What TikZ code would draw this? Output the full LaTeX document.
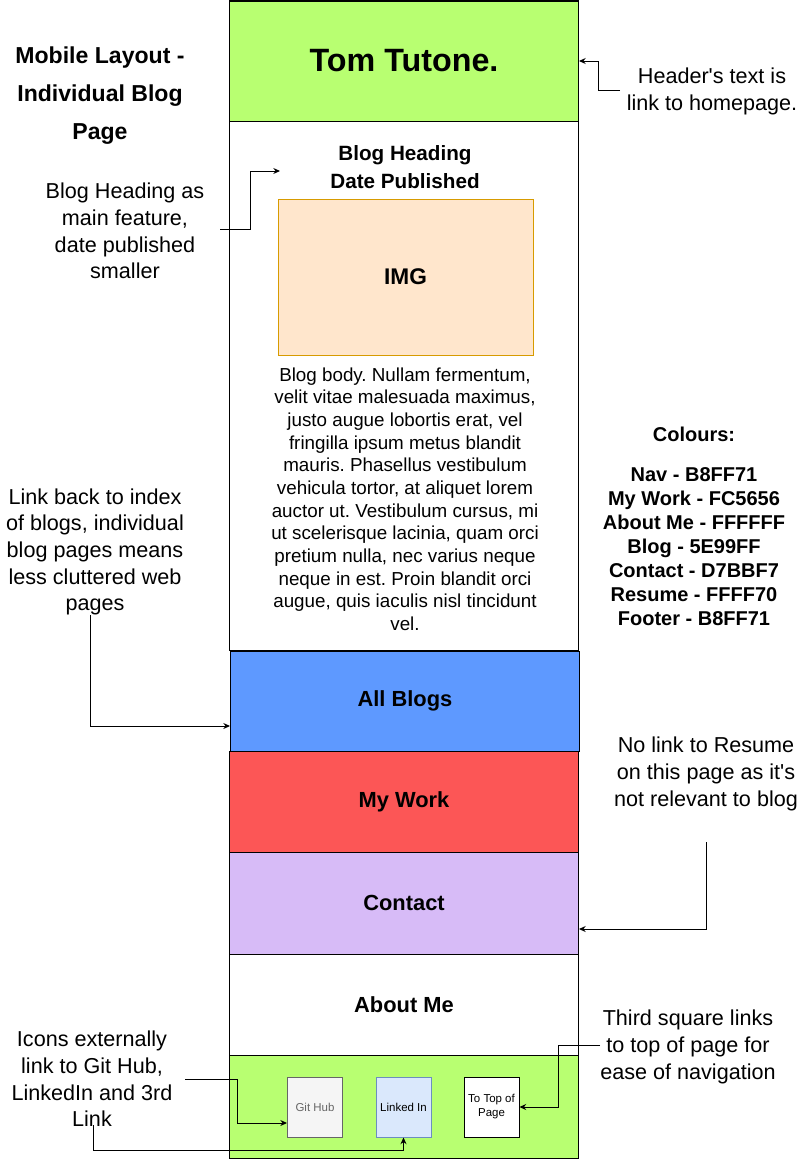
\documentclass[tikz,border=0pt]{standalone}
\usepackage{fontspec}
\setmainfont{Liberation Sans}[Ligatures=TeXOff]
\usetikzlibrary{arrows.meta,positioning}
\newlength\px
\setlength\px{0.75pt}
\definecolor{navgreen}{HTML}{B8FF71}
\definecolor{blogblue}{HTML}{5E99FF}
\definecolor{workred}{HTML}{FC5656}
\definecolor{contactlilac}{HTML}{D7BBF7}
\definecolor{imgfill}{HTML}{FFE6CC}
\definecolor{imgline}{HTML}{D79B00}
\definecolor{gitfill}{HTML}{F5F5F5}
\definecolor{gitline}{HTML}{666666}
\definecolor{lnkfill}{HTML}{DAE8FC}
\definecolor{lnkline}{HTML}{6C8EBF}

\begin{document}
\frenchspacing
\begin{tikzpicture}[x=0.75pt,y=-0.75pt]
\tikzstyle{section}=[draw, line width=0.75pt, minimum width=349\px, inner sep=0pt, font=\fontsize{16.4}{19}\selectfont\bfseries]
\tikzstyle{note}=[align=center, inner sep=0pt, font=\fontsize{16.2}{20}\selectfont]
\tikzstyle{iconbox}=[draw, line width=0.75pt, minimum width=55\px, minimum height=60\px, inner sep=1pt, align=center, font=\fontsize{8.6}{10.5}\selectfont]
\tikzstyle{link}=[line width=0.75pt, -{Stealth[length=5pt,width=4.5pt]}]

\useasboundingbox (0,0) rectangle (807,1160);

% page column
\node[section, fill=navgreen, minimum height=120\px, font=\fontsize{24.2}{28}\selectfont\bfseries] (header) at (404,61) {Tom Tutone.};
\node[section, minimum height=529\px] (body) at (404,386) {};
\node[section, fill=blogblue, minimum height=100\px] (blogs) at (405,701) {All Blogs};
\node[section, fill=workred, minimum height=101\px] (work) at (404,801.5) {My Work};
\node[section, fill=contactlilac, minimum height=102\px] (contact) at (404,903) {Contact};
\node[section, minimum height=101\px] (about) at (404,1004.5) {About Me};
\node[section, fill=navgreen, minimum height=103\px] (footer) at (403.5,1106.5) {};

% blog content
\node[align=center, inner sep=0pt, font=\fontsize{15.5}{21}\selectfont\bfseries] (heading) at (405,167) {Blog Heading\\Date Published};
\node[draw=imgline, fill=imgfill, line width=0.75pt, minimum width=255\px, minimum height=156\px, font=\fontsize{17}{20}\selectfont\bfseries] (img) at (405.5,277) {IMG};
\node[align=center, inner sep=0pt, font=\fontsize{14.1}{17}\selectfont] (bodytext) at (405,499) {Blog body. Nullam fermentum,\\velit vitae malesuada maximus,\\justo augue lobortis erat, vel\\fringilla ipsum metus blandit\\mauris. Phasellus vestibulum\\vehicula tortor, at aliquet lorem\\auctor ut. Vestibulum cursus, mi\\ut scelerisque lacinia, quam orci\\pretium nulla, nec varius neque\\neque in est. Proin blandit orci\\augue, quis iaculis nisl tincidunt\\vel.};

% footer icons
\node[iconbox, draw=gitline, fill=gitfill, text=gitline] (git) at (315,1107) {Git Hub};
\node[iconbox, draw=lnkline, fill=lnkfill] (lnk) at (403.5,1107) {Linked In};
\node[iconbox, fill=white] (top) at (491.5,1107) {To Top of\\Page};

% notes
\node[align=center, inner sep=0pt, font=\fontsize{17.3}{28.5}\selectfont\bfseries] (title) at (100,96) {Mobile Layout -\\Individual Blog\\Page};
\node[note] (hdrnote) at (712,91.5) {Header's text is\\link to homepage.};
\node[note] (headnote) at (125,231) {Blog Heading as\\main feature,\\date published\\smaller};
\node[align=center, inner sep=0pt, font=\fontsize{15}{18}\selectfont\bfseries] (colours) at (694,526) {Colours:\\[12pt]Nav - B8FF71\\My Work - FC5656\\About Me - FFFFFF\\Blog - 5E99FF\\Contact - D7BBF7\\Resume - FFFF70\\Footer - B8FF71};
\node[note] (indexnote) at (95,552) {Link back to index\\of blogs, individual\\blog pages means\\less cluttered web\\pages};
\node[note] (resumenote) at (706,774) {No link to Resume\\on this page as it's\\not relevant to blog};
\node[note] (iconnote) at (92,1079) {Icons externally\\link to Git Hub,\\LinkedIn and 3rd\\Link};
\node[note] (topnote) at (688,1047) {Third square links\\to top of page for\\ease of navigation};

% connectors
\coordinate (hdrA) at (620,90);
\coordinate (headA) at (220,229);
\coordinate (headB) at (280,171);
\coordinate (indexA) at (90,615);
\coordinate (resumeA) at (706,842);
\coordinate (iconA) at (185,1079);
\coordinate (iconB) at (93,1125);
\coordinate (topA) at (600,1045);
\draw[link] (hdrA) -- ++(-22,0) |- (header.east);
\draw[link] (headA) -- ++(30,0) |- (headB);
\draw[link] (indexA) |- ([yshift=-25\px]blogs.west);
\draw[link] (resumeA) |- ([yshift=-26\px]contact.east);
\draw[link] (iconA) -- ++(52,0) |- ([yshift=-16\px]git.west);
\draw[link] (iconB) -- (93,1150) -| (lnk.south);
\draw[link] (topA) -- ++(-42,0) |- (top.east);
\end{tikzpicture}
\end{document}
